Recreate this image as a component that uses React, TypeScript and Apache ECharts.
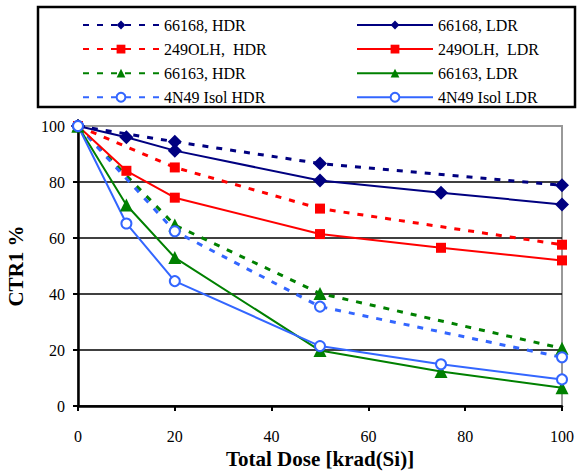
import React, { useEffect, useRef } from "react";
import * as echarts from "echarts";

const hdrDose = [0, 20, 50, 100];
const ldrDose = [0, 10, 20, 50, 75, 100];

const hdr66168 = [100, 94.4, 86.6, 78.8];
const hdr249OLH = [100, 85.2, 70.5, 57.6];
const hdr66163 = [100, 64.6, 40.2, 20.6];
const hdr4N49 = [100, 62.4, 35.5, 17.4];

const ldr66168 = [100, 96, 91.2, 80.5, 76.2, 72];
const ldr249OLH = [100, 84, 74.4, 61.4, 56.5, 52];
const ldr66163 = [100, 71.8, 53, 19.8, 12.3, 6.5];
const ldr4N49 = [100, 65.2, 44.6, 21.4, 14.9, 9.5];

const hdrNames = ["66168, HDR", "249OLH,  HDR", "66163, HDR", "4N49 Isol HDR"];
const ldrNames = ["66168, LDR", "249OLH,  LDR", "66163, LDR", "4N49 Isol LDR"];

const colors = ["#000080", "#ff0000", "#008000", "#3366ff"];
const symbols = ["diamond", "rect", "triangle", "circle"];
const symbolSizes = [14, 10, 13, 10];

const FONT = "'Liberation Serif', 'Times New Roman', serif";

function pairs(xs: number[], ys: number[]) {
  return xs.map((x, i) => [x, ys[i]]);
}

export default function App() {
  const ref = useRef<HTMLDivElement>(null);
  useEffect(() => {
    if (!ref.current) return;
    document.body.style.margin = "0";
    const chart = echarts.init(ref.current, null, { renderer: "svg" });
    const hdrData = [hdr66168, hdr249OLH, hdr66163, hdr4N49];
    const ldrData = [ldr66168, ldr249OLH, ldr66163, ldr4N49];

    const mkItemStyle = (i: number) =>
      i === 3
        ? { color: "#ffffff", borderColor: colors[i], borderWidth: 2 }
        : { color: colors[i], borderColor: colors[i], borderWidth: 0 };

    const series: any[] = [];
    hdrData.forEach((d, i) => {
      series.push({
        type: "line",
        name: hdrNames[i],
        data: pairs(hdrDose, d),
        symbol: symbols[i],
        symbolSize: symbolSizes[i],
        showAllSymbol: true,
        lineStyle: { color: colors[i], width: 3, type: [6, 8] },
        itemStyle: mkItemStyle(i),
        z: 2,
      });
    });
    ldrData.forEach((d, i) => {
      series.push({
        type: "line",
        name: ldrNames[i],
        data: pairs(ldrDose, d),
        symbol: symbols[i],
        symbolSize: symbolSizes[i],
        showAllSymbol: true,
        lineStyle: { color: colors[i], width: 2, type: "solid" },
        itemStyle: mkItemStyle(i),
        z: 3,
      });
    });

    const legendBase = {
      orient: "vertical" as const,
      itemWidth: 76,
      itemHeight: 11,
      itemGap: 8.1,
      padding: 0,
      textStyle: { fontFamily: FONT, fontSize: 16, color: "#000" },
      selectedMode: false,
    };

    chart.setOption({
      animation: false,
      backgroundColor: "#fff",
      grid: {
        left: 78,
        right: 15,
        top: 126,
        bottom: 66,
        outerBoundsMode: "none",
        containLabel: false,
        show: true,
        borderColor: "#999",
        borderWidth: 2,
      },
      legend: [
        { ...legendBase, data: hdrNames, left: 82, top: 17 },
        { ...legendBase, data: ldrNames, left: 356, top: 17 },
      ],
      graphic: [
        {
          type: "rect",
          shape: { x: 38, y: 7, width: 537, height: 100 },
          style: { fill: "none", stroke: "#000", lineWidth: 2.5 },
          silent: true,
        },
      ],
      xAxis: {
        type: "value",
        min: 0,
        max: 100,
        interval: 20,
        name: "Total Dose [krad(Si)]",
        nameLocation: "middle",
        nameGap: 41.5,
        nameTextStyle: { fontFamily: FONT, fontSize: 21, fontWeight: "bold", color: "#000" },
        axisLine: { show: true, onZero: false, lineStyle: { color: "#000", width: 2.5 } },
        axisTick: { show: true, length: 5, lineStyle: { color: "#000", width: 2 } },
        axisLabel: { fontFamily: FONT, fontSize: 16, color: "#000", margin: 22 },
        splitLine: { show: false },
      },
      yAxis: {
        type: "value",
        min: 0,
        max: 100,
        interval: 20,
        name: "CTR1 %",
        nameLocation: "middle",
        nameGap: 52,
        nameRotate: 90,
        nameTextStyle: { fontFamily: FONT, fontSize: 21, fontWeight: "bold", color: "#000" },
        axisLine: { show: true, onZero: false, lineStyle: { color: "#000", width: 2.5 } },
        axisTick: { show: true, length: 5, lineStyle: { color: "#000", width: 2 } },
        axisLabel: { fontFamily: FONT, fontSize: 16, color: "#000", margin: 13 },
        splitLine: {
          show: true,
          lineStyle: { color: ["#000", "#000", "#000", "#000", "#000", "#999"], width: 1.6 },
        },
      },
      series,
    });
    return () => chart.dispose();
  }, []);
  return <div ref={ref} style={{ width: 577, height: 472 }} />;
}
